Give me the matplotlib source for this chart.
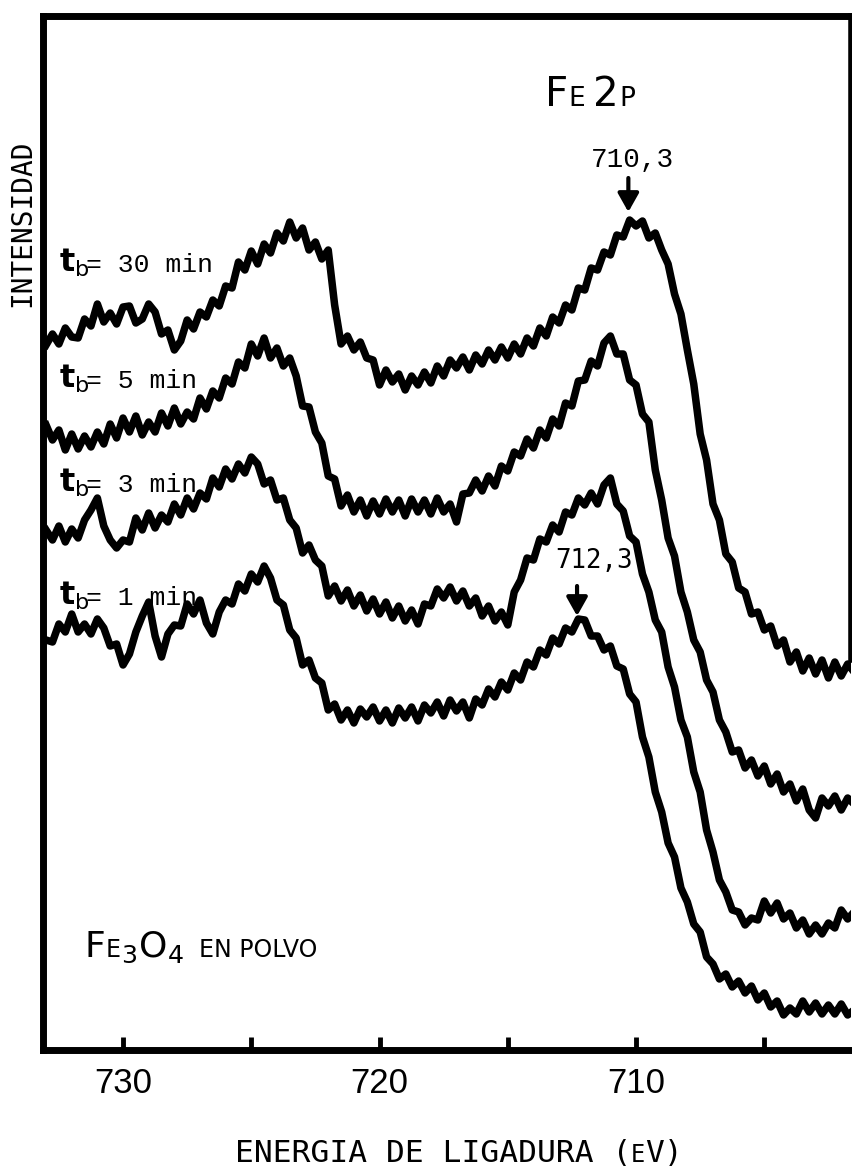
import matplotlib
matplotlib.use("Agg")
import matplotlib.pyplot as plt
from matplotlib.offsetbox import TextArea, HPacker, AnnotationBbox

# Fe 2p XPS spectra of Fe3O4 powder after different sputtering times (t_b)
energia = [733.0, 732.75, 732.5, 732.25, 732.0, 731.75, 731.5, 731.25, 731.0, 730.75,
           730.5, 730.25, 730.0, 729.75, 729.5, 729.25, 729.0, 728.75, 728.5, 728.25,
           728.0, 727.75, 727.5, 727.25, 727.0, 726.75, 726.5, 726.25, 726.0, 725.75,
           725.5, 725.25, 725.0, 724.75, 724.5, 724.25, 724.0, 723.75, 723.5, 723.25,
           723.0, 722.75, 722.5, 722.25, 722.0, 721.75, 721.5, 721.25, 721.0, 720.75,
           720.5, 720.25, 720.0, 719.75, 719.5, 719.25, 719.0, 718.75, 718.5, 718.25,
           718.0, 717.75, 717.5, 717.25, 717.0, 716.75, 716.5, 716.25, 716.0, 715.75,
           715.5, 715.25, 715.0, 714.75, 714.5, 714.25, 714.0, 713.75, 713.5, 713.25,
           713.0, 712.75, 712.5, 712.25, 712.0, 711.75, 711.5, 711.25, 711.0, 710.75,
           710.5, 710.25, 710.0, 709.75, 709.5, 709.25, 709.0, 708.75, 708.5, 708.25,
           708.0, 707.75, 707.5, 707.25, 707.0, 706.75, 706.5, 706.25, 706.0, 705.75,
           705.5, 705.25, 705.0, 704.75, 704.5, 704.25, 704.0, 703.75, 703.5, 703.25,
           703.0, 702.75, 702.5, 702.25, 702.0, 701.75, 701.5]

# intensities (arbitrary units, curves already offset)
int_30min = [705, 716, 706, 722, 713, 712, 731, 724, 746, 728,
             737, 726, 743, 744, 727, 731, 746, 738, 716, 720,
             700, 709, 730, 721, 738, 733, 750, 744, 764, 762,
             788, 780, 799, 786, 806, 797, 817, 809, 828, 812,
             822, 800, 808, 791, 800, 745, 706, 714, 700, 708,
             692, 690, 665, 680, 668, 676, 660, 674, 665, 678,
             667, 684, 674, 690, 682, 693, 680, 695, 686, 700,
             690, 703, 692, 706, 696, 712, 704, 722, 714, 733,
             727, 745, 740, 762, 760, 782, 780, 798, 795, 815,
             813, 830, 824, 829, 812, 817, 800, 786, 756, 736,
             700, 666, 616, 590, 546, 530, 496, 488, 462, 458,
             436, 438, 420, 424, 404, 410, 388, 398, 379, 392,
             376, 390, 372, 388, 374, 386, 378]
int_5min = [625, 610, 620, 600, 616, 601, 614, 603, 618, 606,
            626, 612, 632, 618, 634, 615, 628, 618, 637, 624,
            642, 626, 638, 631, 652, 641, 659, 652, 672, 666,
            688, 682, 706, 694, 712, 692, 702, 684, 692, 674,
            644, 643, 618, 607, 574, 571, 544, 555, 538, 550,
            534, 549, 536, 551, 538, 550, 534, 551, 538, 550,
            536, 552, 538, 546, 528, 556, 557, 570, 559, 574,
            564, 584, 579, 598, 594, 611, 602, 620, 612, 631,
            624, 647, 644, 669, 670, 689, 684, 707, 714, 696,
            696, 670, 665, 636, 628, 580, 550, 512, 494, 458,
            438, 410, 398, 370, 358, 330, 318, 298, 300, 282,
            290, 274, 284, 266, 276, 258, 266, 249, 261, 240,
            232, 252, 244, 254, 240, 252, 246]
int_3min = [520, 510, 524, 508, 521, 512, 530, 540, 552, 524,
            510, 502, 510, 508, 532, 520, 537, 522, 535, 528,
            546, 535, 552, 541, 557, 551, 572, 563, 581, 571,
            586, 577, 593, 586, 566, 570, 550, 552, 530, 522,
            497, 505, 490, 484, 454, 464, 449, 460, 444, 455,
            439, 451, 436, 448, 432, 444, 429, 440, 426, 446,
            444, 461, 452, 463, 449, 459, 444, 452, 434, 444,
            429, 438, 425, 458, 470, 492, 490, 511, 508, 525,
            518, 538, 535, 552, 545, 557, 546, 565, 572, 546,
            539, 514, 508, 476, 458, 430, 418, 383, 363, 330,
            313, 278, 258, 220, 198, 170, 158, 140, 138, 125,
            132, 130, 149, 137, 147, 131, 137, 122, 130, 116,
            125, 116, 127, 122, 140, 131, 138]
int_1min = [410, 408, 426, 418, 436, 418, 426, 416, 431, 422,
            404, 406, 385, 396, 418, 434, 448, 414, 393, 416,
            425, 424, 446, 436, 450, 427, 416, 438, 450, 446,
            466, 459, 476, 468, 484, 472, 450, 445, 420, 412,
            385, 390, 372, 367, 340, 346, 330, 340, 327, 341,
            333, 343, 329, 340, 327, 342, 332, 343, 329, 345,
            337, 348, 334, 350, 339, 348, 332, 351, 345, 361,
            353, 368, 360, 377, 370, 388, 383, 400, 395, 412,
            406, 422, 418, 431, 430, 414, 414, 400, 404, 384,
            381, 356, 348, 313, 293, 258, 238, 207, 193, 162,
            148, 126, 118, 93, 86, 71, 76, 63, 69, 57,
            64, 50, 57, 43, 49, 35, 42, 36, 49, 38,
            47, 36, 45, 36, 46, 35, 40]

curvas = [int_30min, int_5min, int_3min, int_1min]
etiquetas_t = ["30", "5", "3", "1"]

# peak positions marked with arrows (eV, tip height, tail height)
pico_a = (710.3, 838, 872)
pico_b = (712.3, 434, 464)

W, H = 853, 1171
fig = plt.figure(figsize=(W / 100, H / 100), dpi=100)
ax = fig.add_axes([43 / W, 1 - 1050 / H, 808 / W, 1034 / H])

for c in curvas:
    ax.plot(energia, c, color="black", lw=5.4, solid_joinstyle="round", zorder=3)

ax.set_xlim(733.12, 701.62)
ax.set_ylim(0, 1034)
ax.set_yticks([])
ax.set_xticks([730, 720, 710])
ax.set_xticklabels(["730", "720", "710"])
ax.set_xticks([725, 715, 705], minor=True)
ax.tick_params(axis="x", which="both", direction="in", length=9.5, width=3.5,
               pad=12, labelsize=25)
for lab in ax.get_xticklabels():
    lab.set_family("Liberation Sans")

for nombre in ["left", "top", "bottom"]:
    ax.spines[nombre].set_linewidth(5)
ax.spines["right"].set_linewidth(4)
ax.spines["right"].set_bounds(390, 1034)


def fpx(x, y):
    return x / W, 1 - y / H


def rotulo(piezas, x, y, align=(0, 0)):
    cajas = [TextArea(s, textprops=dict(fontsize=fs, family=fam)) for s, fs, fam in piezas]
    caja = HPacker(children=cajas, align="baseline", pad=0, sep=0)
    ab = AnnotationBbox(caja, (x, H - y), xycoords="figure pixels",
                        box_alignment=align, frameon=False, pad=0)
    fig.add_artist(ab)


# arrows at the main Fe 2p3/2 peaks
for e, tip, cola in [pico_a, pico_b]:
    ax.annotate("", xy=(e, tip), xytext=(e, cola),
                arrowprops=dict(arrowstyle="-|>,head_length=0.8,head_width=0.45",
                                color="black", lw=3, mutation_scale=14,
                                shrinkA=0, shrinkB=0), zorder=4)
ax.text(pico_a[0] - 0.16, pico_a[2] + 18, "710,3", ha="center", va="center",
        fontsize=20, family="Liberation Mono", zorder=2)
ax.text(pico_b[0] - 0.66, pico_b[2] + 25, "712,3", ha="center", va="center",
        fontsize=18.5, family="DejaVu Sans Mono", zorder=2)

# sputtering time labels
for t, base in zip(etiquetas_t, [272, 388, 492, 605]):
    fig.text(*fpx(59, base), r"$\mathbf{t}_{\mathregular{b}}$", fontsize=23,
             va="baseline", ha="left", zorder=1)
    fig.text(*fpx(86, base), "= " + t + " min", fontsize=19,
             family="Liberation Mono", va="baseline", ha="left", zorder=1)

fig.text(*fpx(22, 223), "INTENSIDAD", rotation=90, fontsize=20,
         family="DejaVu Sans Mono", ha="center", va="center")

rotulo([("F", 29, "DejaVu Sans"), ("E", 19, "DejaVu Sans"), (" ", 19, "DejaVu Sans"),
        ("2", 29, "DejaVu Sans"), ("P", 19, "DejaVu Sans")], 545, 115)

rotulo([("F", 26, "DejaVu Sans"), ("E", 17, "DejaVu Sans"),
        (r"$\mathregular{{}_{3}O_{4}}$", 26, "DejaVu Sans"),
        ("  EN POLVO", 17, "DejaVu Sans")], 85, 965)

rotulo([("ENERGIA DE LIGADURA (", 22.5, "DejaVu Sans Mono"),
        ("E", 17, "DejaVu Sans Mono"),
        ("V)", 22.5, "DejaVu Sans Mono")], 459, 1153, align=(0.5, 0.5))

fig.savefig("out.png", dpi=100)
